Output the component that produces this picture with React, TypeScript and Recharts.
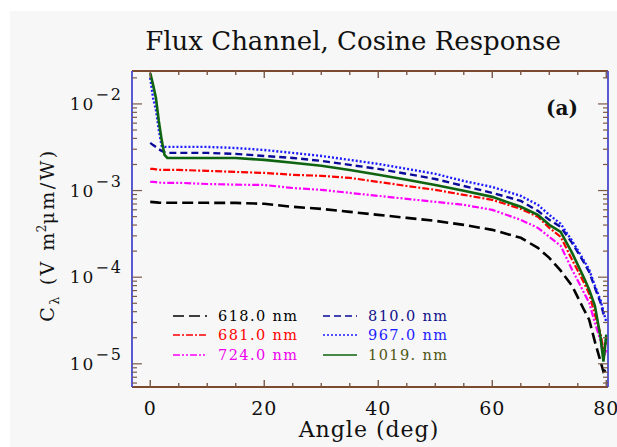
import React from "react";
import { LineChart, Line, XAxis, YAxis, Legend } from "recharts";

// angle grid (deg) shared by all channels
const ANGLES = [
  0, 0.5, 1, 1.5, 2, 2.5, 3, 5, 10, 15, 20, 25, 30, 35, 40, 45, 50, 55, 60,
  65, 68, 70, 72, 74, 76, 77, 78, 79, 79.5, 80,
];

// cosine response C_lambda per channel, V m^2 um / W
const C618 = [
  7.41e-4, 7.35e-4, 7.3e-4, 7.25e-4, 7.22e-4, 7.22e-4, 7.22e-4, 7.22e-4,
  7.22e-4, 7.2e-4, 7.03e-4, 6.49e-4, 6.15e-4, 5.68e-4, 5.24e-4, 4.84e-4,
  4.47e-4, 4.02e-4, 3.52e-4, 2.85e-4, 2.18e-4, 1.67e-4, 1.19e-4, 7.96e-5,
  4.32e-5, 3.23e-5, 1.8e-5, 1.06e-5, 8.11e-6, 8.55e-6,
];
const C681 = [
  1.78e-3, 1.78e-3, 1.76e-3, 1.74e-3, 1.73e-3, 1.73e-3, 1.73e-3, 1.73e-3,
  1.69e-3, 1.64e-3, 1.6e-3, 1.52e-3, 1.48e-3, 1.4e-3, 1.26e-3, 1.13e-3,
  1.02e-3, 8.92e-4, 7.81e-4, 6.15e-4, 4.98e-4, 3.71e-4, 2.92e-4, 1.59e-4,
  8.85e-5, 6.44e-5, 3.68e-5, 2.22e-5, 1.45e-5, 1.8e-5,
];
const C724 = [
  1.26e-3, 1.26e-3, 1.25e-3, 1.24e-3, 1.23e-3, 1.23e-3, 1.23e-3, 1.23e-3,
  1.19e-3, 1.17e-3, 1.16e-3, 1.07e-3, 1.02e-3, 9.4e-4, 8.68e-4, 8.02e-4,
  7.41e-4, 6.84e-4, 5.99e-4, 4.59e-4, 3.71e-4, 2.92e-4, 2.3e-4, 1.22e-4,
  6.79e-5, 5.07e-5, 2.98e-5, 1.85e-5, 1.18e-5, 1.45e-5,
];
const C810 = [
  3.55e-3, 3.35e-3, 3.19e-3, 3.0e-3, 2.87e-3, 2.78e-3, 2.72e-3, 2.72e-3,
  2.72e-3, 2.65e-3, 2.51e-3, 2.38e-3, 2.2e-3, 1.98e-3, 1.78e-3, 1.56e-3,
  1.36e-3, 1.13e-3, 9.4e-4, 7.6e-4, 5.83e-4, 4.59e-4, 3.81e-4, 2.49e-4,
  1.51e-4, 1.15e-4, 7.6e-5, 5.07e-5, 3.79e-5, 3.4e-5,
];
const C967 = [
  2.0e-2, 1.17e-2, 8.53e-3, 5.01e-3, 3.28e-3, 3.19e-3, 3.19e-3, 3.19e-3,
  3.19e-3, 3.1e-3, 2.94e-3, 2.72e-3, 2.51e-3, 2.26e-3, 2.03e-3, 1.78e-3,
  1.56e-3, 1.29e-3, 1.1e-3, 8.68e-4, 6.84e-4, 5.24e-4, 4.13e-4, 2.63e-4,
  1.59e-4, 1.22e-4, 7.96e-5, 5.4e-5, 3.99e-5, 3.06e-5,
];
const C1019 = [
  2.28e-2, 1.66e-2, 1.17e-2, 6.37e-3, 3.85e-3, 2.58e-3, 2.38e-3, 2.38e-3,
  2.38e-3, 2.38e-3, 2.26e-3, 2.09e-3, 1.93e-3, 1.73e-3, 1.52e-3, 1.33e-3,
  1.16e-3, 9.93e-4, 8.46e-4, 6.49e-4, 5.24e-4, 4.02e-4, 3.34e-4, 1.91e-4,
  1.01e-4, 7.16e-5, 4.68e-5, 2.0e-5, 1.06e-5, 2.17e-5,
];

const X_TICKS = [0, 5, 10, 15, 20, 25, 30, 35, 40, 45, 50, 55, 60, 65, 70, 75, 80];
const X_DOMAIN: [number, number] = [-3.2, 80.3];
const Y_DOMAIN: [number, number] = [5.4e-6, 0.024];

// log ticks: 1..9 x 10^n inside the range, decades get labels
const Y_TICKS: number[] = [];
for (let e = -6; e <= -2; e++) {
  for (let m = 1; m <= 9; m++) {
    const v = m * Math.pow(10, e);
    if (v >= Y_DOMAIN[0] && v <= Y_DOMAIN[1]) Y_TICKS.push(v);
  }
}

const SERIES = [
  { key: "c618", label: "618.0 nm", values: C618, stroke: "#000000", text: "#000000", dash: "11 5", width: 2.6 },
  { key: "c681", label: "681.0 nm", values: C681, stroke: "#ff0000", text: "#ff0000", dash: "7 2 2 2", width: 2.2 },
  { key: "c724", label: "724.0 nm", values: C724, stroke: "#ff00ff", text: "#ee00ee", dash: "7 2 2 2 2 2", width: 2.2 },
  { key: "c810", label: "810.0 nm", values: C810, stroke: "#0a0a9a", text: "#10108a", dash: "7 4", width: 2.4 },
  { key: "c967", label: "967.0 nm", values: C967, stroke: "#1c1cff", text: "#1c1cff", dash: "2 2", width: 2.4 },
  { key: "c1019", label: "1019. nm", values: C1019, stroke: "#0e6410", text: "#4f5514", dash: undefined, width: 2.6 },
];

const rows = ANGLES.map((angle, i) => {
  const r: Record<string, number> = { angle };
  SERIES.forEach((s) => {
    r[s.key] = s.values[i];
  });
  return r;
});

const FONT = "DejaVu Serif";
const BROWN = "#7b4a2f";
const BLUE = "#4848d0";
const TICK = "#7a5a4a";

const isDecade = (v: number) =>
  Math.abs(Math.log10(v) - Math.round(Math.log10(v))) < 1e-6;

const LeftTick = (props: any) => {
  const { x, y, payload } = props;
  const v = payload.value;
  const major = isDecade(v);
  return (
    <g>
      <line x1={x} y1={y} x2={x + (major ? 10 : 5)} y2={y} stroke={TICK} strokeWidth={1.2} />
      {major && (
        <text x={x - 9} y={y + 6} textAnchor="end" fontFamily={FONT} fontSize={17} fill="#111" letterSpacing={2}>
          10
          <tspan dy={-10} fontSize={16}>
            {"\u2212" + -Math.round(Math.log10(v))}
          </tspan>
        </text>
      )}
    </g>
  );
};

const RightTick = (props: any) => {
  const { x, y, payload } = props;
  const major = isDecade(payload.value);
  return <line x1={x} y1={y} x2={x - (major ? 10 : 5)} y2={y} stroke={TICK} strokeWidth={1.2} />;
};

const BottomTick = (props: any) => {
  const { x, y, payload } = props;
  const major = payload.value % 20 === 0;
  return (
    <g>
      <line x1={x} y1={y} x2={x} y2={y - (major ? 7 : 4)} stroke={TICK} strokeWidth={1.4} />
      {major && (
        <text x={x} y={y + 28} textAnchor="middle" fontFamily={FONT} fontSize={19} fill="#111" letterSpacing={1}>
          {payload.value}
        </text>
      )}
    </g>
  );
};

const TopTick = (props: any) => {
  const { x, y, payload } = props;
  const major = payload.value % 20 === 0;
  return <line x1={x} y1={y} x2={x} y2={y + (major ? 7 : 4)} stroke={TICK} strokeWidth={1.4} />;
};

const renderLegend = () => (
  <div
    style={{
      display: "grid",
      gridTemplateRows: "repeat(3, 19.5px)",
      gridAutoFlow: "column",
      gridAutoColumns: "150px",
      fontFamily: FONT,
      fontSize: 14.5,
      letterSpacing: 1.4,
    }}
  >
    {SERIES.map((s) => (
      <div key={s.key} style={{ display: "flex", alignItems: "center" }}>
        <svg width={34} height={10}>
          <line x1={0} y1={5} x2={34} y2={5} stroke={s.stroke} strokeWidth={1.6} strokeDasharray={s.dash} />
        </svg>
        <span style={{ marginLeft: 11, color: s.text }}>{s.label}</span>
      </div>
    ))}
  </div>
);

export default function App() {
  return (
    <div style={{ position: "absolute", left: 0, top: 0, width: 617, height: 447, background: "#ffffff" }}>
      <div style={{ position: "absolute", left: 10, top: 11, right: 0, bottom: 0, background: "#f7f7f7" }} />
      <LineChart width={617} height={447} data={rows} margin={{ top: 70, right: 0, bottom: 0, left: 0 }}>
        <XAxis
          dataKey="angle"
          type="number"
          domain={X_DOMAIN}
          ticks={X_TICKS}
          interval={0}
          allowDataOverflow
          height={60}
          tickSize={0}
          tickMargin={0}
          tickLine={false}
          tick={BottomTick}
          axisLine={{ stroke: BROWN, strokeWidth: 1.8 }}
          label={(p: any) => {
            const vb = p.viewBox ?? { x: 132, y: 387, width: 476 };
            return (
              <text x={vb.x + vb.width / 2 - 1} y={vb.y + 50} textAnchor="middle" fontFamily={FONT} fontSize={22} fill="#111" letterSpacing={1}>
                Angle (deg)
              </text>
            );
          }}
        />
        <XAxis
          xAxisId="top"
          orientation="top"
          dataKey="angle"
          type="number"
          domain={X_DOMAIN}
          ticks={X_TICKS}
          interval={0}
          allowDataOverflow
          height={1}
          tickSize={0}
          tickMargin={0}
          tickLine={false}
          tick={TopTick}
          axisLine={{ stroke: BROWN, strokeWidth: 1.8 }}
          label={(p: any) => {
            const vb = p.viewBox ?? { x: 132, y: 70, width: 476 };
            return (
              <text x={vb.x + vb.width / 2 - 17} y={vb.y - 20} textAnchor="middle" fontFamily={FONT} fontSize={26} fill="#111">
                Flux Channel, Cosine Response
              </text>
            );
          }}
        />
        <YAxis
          type="number"
          scale="log"
          domain={Y_DOMAIN}
          ticks={Y_TICKS}
          interval={0}
          allowDataOverflow
          width={132}
          tickSize={0}
          tickMargin={0}
          tickLine={false}
          tick={LeftTick}
          axisLine={{ stroke: BLUE, strokeWidth: 1.8 }}
          label={(p: any) => {
            const vb = p.viewBox ?? { x: 0, y: 71, height: 316 };
            const cx = 54;
            const cy = vb.y + vb.height / 2 + 6;
            return (
              <text x={cx} y={cy} transform={`rotate(-90, ${cx}, ${cy})`} textAnchor="middle" fontFamily={FONT} fontSize={19} fill="#111" letterSpacing={2.5}>
                C
                <tspan dy={5} fontSize={13}>λ</tspan>
                <tspan dy={-5}> (V m</tspan>
                <tspan dy={-8} dx={-2} fontSize={12} letterSpacing={0}>2</tspan>
                <tspan dy={8}>μm/W)</tspan>
              </text>
            );
          }}
        />
        <YAxis
          yAxisId="right"
          orientation="right"
          type="number"
          scale="log"
          domain={Y_DOMAIN}
          ticks={Y_TICKS}
          interval={0}
          allowDataOverflow
          width={9}
          tickSize={0}
          tickMargin={0}
          tickLine={false}
          tick={RightTick}
          axisLine={{ stroke: BLUE, strokeWidth: 1.8 }}
          label={(p: any) => {
            const vb = p.viewBox ?? { x: 608, y: 71 };
            return (
              <text x={vb.x - 46} y={vb.y + 44} textAnchor="middle" fontFamily={FONT} fontSize={20} fontWeight="bold" fill="#111">
                (a)
              </text>
            );
          }}
        />
        <Legend
          layout="horizontal"
          verticalAlign="middle"
          align="center"
          wrapperStyle={{ left: 173, top: 306, width: 300, height: 60 }}
          content={renderLegend}
        />
        {SERIES.map((s) => (
          <Line
            key={s.key}
            dataKey={s.key}
            type="linear"
            stroke={s.stroke}
            strokeWidth={s.width}
            strokeDasharray={s.dash}
            dot={false}
            activeDot={false}
            isAnimationActive={false}
          />
        ))}
      </LineChart>
    </div>
  );
}
